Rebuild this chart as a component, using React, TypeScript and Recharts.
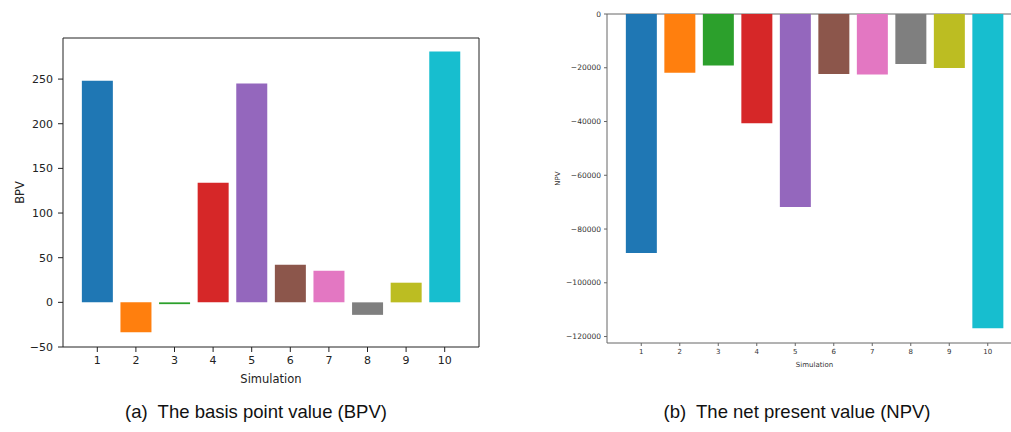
import {
  BarChart,
  Bar,
  XAxis,
  YAxis,
  Cell,
  Label,
  CartesianGrid,
} from "recharts";

// simulation runs and their results
const simulations = ["1", "2", "3", "4", "5", "6", "7", "8", "9", "10"];
const bpvValues = [248, -33.5, -2, 134, 245, 42, 35.5, -14, 22, 281];
const npvValues = [
  -88900, -21900, -19200, -40600, -71800, -22300, -22500, -18600, -20100,
  -116900,
];
const bpvTicks = [-50, 0, 50, 100, 150, 200, 250];
const npvTicks = [0, -20000, -40000, -60000, -80000, -100000, -120000];

// matplotlib tab10
const colors = [
  "#1f77b4",
  "#ff7f0e",
  "#2ca02c",
  "#d62728",
  "#9467bd",
  "#8c564b",
  "#e377c2",
  "#7f7f7f",
  "#bcbd22",
  "#17becf",
];

const bpvData = simulations.map((sim, i) => ({ sim, value: bpvValues[i] }));
const npvData = simulations.map((sim, i) => ({ sim, value: npvValues[i] }));

const FONT = "'DejaVu Sans', sans-serif";
const minus = (v: number) => String(v).replace("-", "\u2212");

function YTitle({
  viewBox,
  text,
  dx,
  size,
  color,
}: {
  viewBox?: any;
  text: string;
  dx: number;
  size: number;
  color: string;
}) {
  const x = viewBox.x + dx;
  const y = viewBox.y + viewBox.height / 2;
  return (
    <text
      x={x}
      y={y}
      transform={`rotate(-90 ${x} ${y})`}
      textAnchor="middle"
      dominantBaseline="central"
      fontSize={size}
      fontFamily={FONT}
      fill={color}
    >
      {text}
    </text>
  );
}

function BpvChart() {
  const ink = "#222";
  return (
    <BarChart
      width={490}
      height={395}
      data={bpvData}
      margin={{ top: 38, right: 11, bottom: 0, left: 0 }}
      barCategoryGap="10%"
    >
      {/* top and right spines */}
      <CartesianGrid
        stroke={ink}
        strokeDasharray=""
        horizontalCoordinatesGenerator={({ offset }: any) => [offset.top]}
        verticalCoordinatesGenerator={({ offset }: any) => [
          offset.left + offset.width,
        ]}
      />
      <XAxis
        dataKey="sim"
        height={48}
        padding={{ left: 15, right: 15 }}
        tickSize={5}
        tickMargin={4}
        stroke={ink}
        tick={{ fill: ink, fontSize: 11, fontFamily: FONT }}
      >
        <Label
          value="Simulation"
          position="insideBottom"
          offset={12}
          fill={ink}
          fontSize={11.5}
          fontFamily={FONT}
        />
      </XAxis>
      <YAxis
        width={63}
        domain={[-50, 296]}
        ticks={bpvTicks}
        allowDataOverflow
        interval={0}
        tickSize={5}
        tickMargin={5}
        stroke={ink}
        tickFormatter={minus}
        tick={{ fill: ink, fontSize: 11, fontFamily: FONT }}
      >
        <Label
          content={(p: any) => (
            <YTitle viewBox={p.viewBox} text="BPV" dx={20} size={11.5} color={ink} />
          )}
        />
      </YAxis>
      <Bar dataKey="value" isAnimationActive={false}>
        {bpvData.map((d, i) => (
          <Cell key={d.sim} fill={colors[i]} />
        ))}
      </Bar>
    </BarChart>
  );
}

function NpvChart() {
  const ink = "#333";
  const spine = "#666";
  return (
    <BarChart
      width={490}
      height={380}
      data={npvData}
      margin={{ top: 14, right: 8, bottom: 0, left: 0 }}
      barCategoryGap="10%"
    >
      {/* top spine at zero */}
      <CartesianGrid
        stroke={spine}
        strokeDasharray=""
        vertical={false}
        horizontalCoordinatesGenerator={({ offset }: any) => [offset.top]}
      />
      <XAxis
        dataKey="sim"
        height={37}
        padding={{ left: 15, right: 15 }}
        tickSize={3}
        tickMargin={3}
        stroke={spine}
        tick={{ fill: ink, fontSize: 7, fontFamily: FONT }}
      >
        <Label
          value="Simulation"
          position="insideBottom"
          offset={13}
          fill={ink}
          fontSize={7}
          fontFamily={FONT}
        />
      </XAxis>
      <YAxis
        width={67}
        domain={[-122400, 0]}
        ticks={npvTicks}
        allowDataOverflow
        interval={0}
        tickSize={3}
        tickMargin={3}
        stroke={spine}
        tickFormatter={minus}
        tick={{ fill: ink, fontSize: 7.5, fontFamily: FONT }}
      >
        <Label
          content={(p: any) => (
            <YTitle viewBox={p.viewBox} text="NPV" dx={18} size={7} color={ink} />
          )}
        />
      </YAxis>
      <Bar dataKey="value" isAnimationActive={false}>
        {npvData.map((d, i) => (
          <Cell key={d.sim} fill={colors[i]} />
        ))}
      </Bar>
    </BarChart>
  );
}

const caption: React.CSSProperties = {
  position: "absolute",
  top: 401,
  fontFamily: "'Liberation Sans', Arial, sans-serif",
  fontSize: 18.5,
  color: "#111",
  whiteSpace: "pre",
  transform: "translateX(-50%)",
};

export default function App() {
  return (
    <div
      style={{
        position: "absolute",
        left: 0,
        top: 0,
        width: 1011,
        height: 432,
        overflow: "hidden",
        background: "#fff",
      }}
    >
      <div style={{ position: "absolute", left: 0, top: 0 }}>
        <BpvChart />
      </div>
      <div style={{ position: "absolute", left: 540, top: 0 }}>
        <NpvChart />
      </div>
      <div style={{ ...caption, left: 256 }}>(a)  The basis point value (BPV)</div>
      <div style={{ ...caption, left: 797 }}>(b)  The net present value (NPV)</div>
    </div>
  );
}
